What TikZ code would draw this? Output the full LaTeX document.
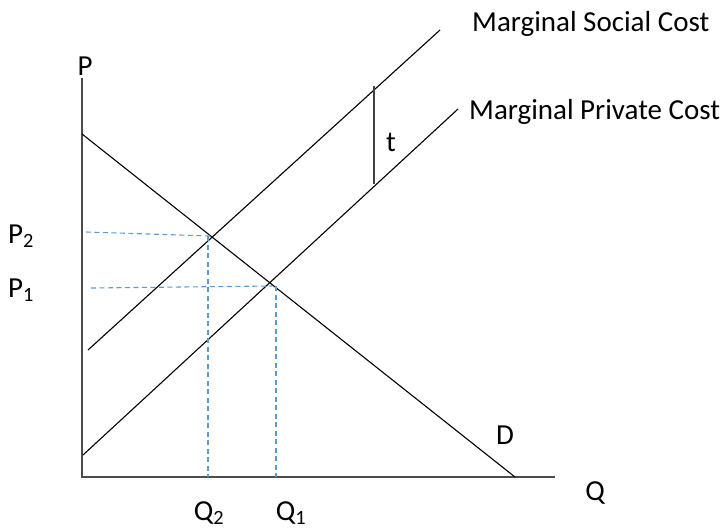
\documentclass[tikz,border=0pt]{standalone}
\usepackage{fontspec}
\setmainfont{Carlito}
\begin{document}
\begin{tikzpicture}[x=1pt,y=-1pt,
  axis/.style={draw=black!70, line width=2pt},
  curve/.style={draw=black, line width=1.1pt},
  guide/.style={draw={rgb,255:red,91;green,155;blue,213}, line width=1.1pt, dash pattern=on 5pt off 3.5pt},
  lbl/.style={font=\fontsize{29}{32}\selectfont, inner sep=0pt}]
\useasboundingbox (0,0) rectangle (728,531);
% axes
\coordinate (O) at (82,477);
\coordinate (Ptop) at (82,78);
\coordinate (Qend) at (555,477);
\draw[axis] (Ptop) -- (O) -- (Qend);
% curves
\coordinate (Dtop) at (82,134);
\coordinate (Dbot) at (515,477);
\coordinate (MSCa) at (88,350);
\coordinate (MSCb) at (440,30);
\coordinate (MPCa) at (83,455);
\coordinate (MPCb) at (458,109);
\draw[curve] (Dtop) -- (Dbot);
\draw[curve] (MSCa) -- (MSCb);
\draw[curve] (MPCa) -- (MPCb);
% tax wedge
\coordinate (Ttop) at (374,86);
\coordinate (Tbot) at (374,184);
\draw[draw=black!75, line width=1.5pt] (Ttop) -- (Tbot);
% equilibrium guides
\coordinate (E2) at (211,236);
\coordinate (E1) at (272,286);
\coordinate (P2a) at (86,232);
\coordinate (P1a) at (91,288);
\coordinate (V2t) at (208,236);
\coordinate (V2b) at (208,477);
\coordinate (V1t) at (276,286);
\coordinate (V1b) at (276,477);
\draw[guide] (P2a) -- (E2);
\draw[guide] (V2t) -- (V2b);
\draw[guide] (P1a) -- (E1);
\draw[guide] (V1t) -- (V1b);
% labels
\node[lbl] (lP) at (85,66) {P};
\node[lbl] (lQ) at (595,493) {Q};
\node[lbl] (lD) at (505,435) {D};
\node[lbl] (lt) at (391,142) {t};
\node[lbl, anchor=west] (lMSC) at (472,24) {Marginal Social Cost};
\node[lbl, anchor=west] (lMPC) at (469,112) {Marginal Private Cost};
\node[lbl] (lP2) at (21,236) {P\textsubscript{2}};
\node[lbl] (lP1) at (21,290) {P\textsubscript{1}};
\node[lbl] (lQ2) at (209,513) {Q\textsubscript{2}};
\node[lbl] (lQ1) at (291,513) {Q\textsubscript{1}};
\end{tikzpicture}
\end{document}
